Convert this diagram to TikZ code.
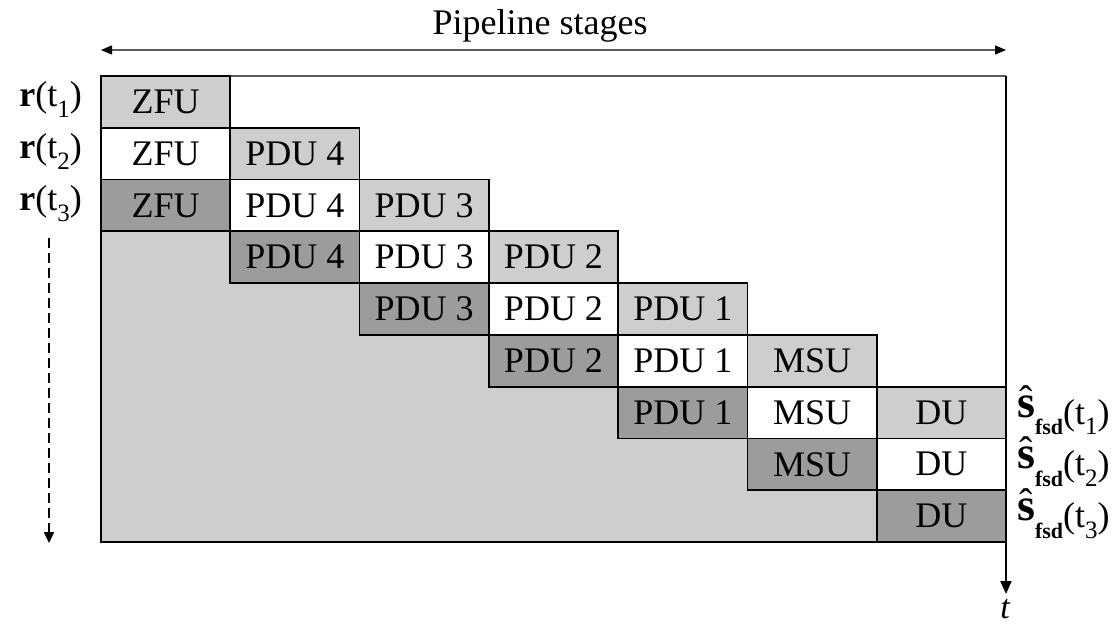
\documentclass[tikz,border=0pt]{standalone}
\usepackage{fontspec}
\setmainfont{Liberation Serif}
\usetikzlibrary{arrows.meta}

\definecolor{cellLight}{RGB}{206,206,206}
\definecolor{cellDark}{RGB}{156,156,156}
\definecolor{ruleGray}{RGB}{90,90,90}

% subscript digit and the two kinds of side labels
\newcommand{\lowsub}[1]{\raisebox{-0.3em}{\fontsize{25}{25}\selectfont #1}}
\newcommand{\shat}{{\fontsize{46}{46}\selectfont\ooalign{\bfseries s\cr\hidewidth\raisebox{4pt}{\fontsize{40}{40}\selectfont\mdseries\char"02C6}\hidewidth\cr}}}
\newcommand{\rlabel}[1]{\textbf{r}(t\lowsub{#1})}
\newcommand{\slabel}[1]{\raisebox{7pt}{\shat}\raisebox{-0.3em}{\fontsize{22}{22}\selectfont\bfseries fsd}(t\lowsub{#1})}

\tikzset{
  cell/.style={draw=black, line width=1.8pt, minimum width=129.2857pt,
    minimum height=51.7778pt, inner sep=0pt, anchor=center,
    font=\fontsize{36}{40}\selectfont},
  sidelabel/.style={inner sep=0pt, font=\fontsize{36}{40}\selectfont},
  frameline/.style={line width=2pt, black},
}

\begin{document}
\begin{tikzpicture}[x=1pt, y=-1pt]
\useasboundingbox (0,0) rectangle (1114,626);

% shaded area below the staircase, white area above it
\fill[cellLight] (101,76) rectangle (1006,542);
\fill[white] (231,76) -- (1006,76) -- (1006,386.4) -- (877,386.4) -- (877,334.6)
  -- (747.7,334.6) -- (747.7,282.9) -- (618.4,282.9) -- (618.4,231.1)
  -- (489.1,231.1) -- (489.1,179.3) -- (359.9,179.3) -- (359.9,127.8)
  -- (230.6,127.8) -- cycle;

% thin upper edge of the frame
\draw[ruleGray, line width=1.3pt] (230,76) -- (1006,76);

% pipeline cells
\foreach \r/\c/\t/\f in {
  1/1/ZFU/cellLight,
  2/1/ZFU/white, 2/2/PDU 4/cellLight,
  3/1/ZFU/cellDark, 3/2/PDU 4/white, 3/3/PDU 3/cellLight,
  4/2/PDU 4/cellDark, 4/3/PDU 3/white, 4/4/PDU 2/cellLight,
  5/3/PDU 3/cellDark, 5/4/PDU 2/white, 5/5/PDU 1/cellLight,
  6/4/PDU 2/cellDark, 6/5/PDU 1/white, 6/6/MSU/cellLight,
  7/5/PDU 1/cellDark, 7/6/MSU/white, 7/7/DU/cellLight,
  8/6/MSU/cellDark, 8/7/DU/white,
  9/7/DU/cellDark}{
  \pgfmathsetmacro\cx{101+(\c-0.5)*129.2857}
  \pgfmathsetmacro\cy{76+(\r-0.5)*51.7778}
  \node[cell, fill=\f] (cell-\r-\c) at (\cx,\cy) {\t};
}

% frame: left and bottom edges, time axis on the right
\coordinate (frame-tl) at (101,76);
\coordinate (frame-bl) at (101,542);
\coordinate (frame-br) at (1006,542);
\coordinate (axis-top) at (1006,76);
\coordinate (axis-end) at (1006,594);
\draw[frameline] (frame-tl) -- (frame-bl) -- (frame-br);
\draw[frameline, -{Triangle[length=13pt,width=11pt]}] (axis-top) -- (axis-end);
\node[sidelabel, anchor=base, font=\fontsize{34}{36}\selectfont\itshape] (t-label) at (1005,618) {t};

% pipeline stages span
\coordinate (stages-l) at (101,50);
\coordinate (stages-r) at (1006,50);
\draw[ruleGray, line width=1.3pt, {Triangle[length=11pt,width=9pt,color=black]}-{Triangle[length=11pt,width=9pt,color=black]}] (stages-l) -- (stages-r);
\node[sidelabel, anchor=base] (stages-label) at (540,35) {Pipeline stages};

% received vectors on the left
\foreach \r in {1,2,3}{
  \pgfmathsetmacro\cy{76+(\r-0.5)*51.7778+5}
  \node[sidelabel, anchor=base east] (in-\r) at (82,\cy) {\rlabel{\r}};
}
\coordinate (more-top) at (49,238);
\coordinate (more-end) at (49,543);
\draw[line width=2.2pt, dash pattern=on 10pt off 5pt, -{Triangle[length=11pt,width=10pt]}] (more-top) -- (more-end);

% detected symbols on the right
\foreach \r in {1,2,3}{
  \pgfmathsetmacro\cy{76+(\r+5.5)*51.7778+11.5}
  \node[sidelabel, anchor=base west] (out-\r) at (1017,\cy) {\slabel{\r}};
}
\end{tikzpicture}
\end{document}
